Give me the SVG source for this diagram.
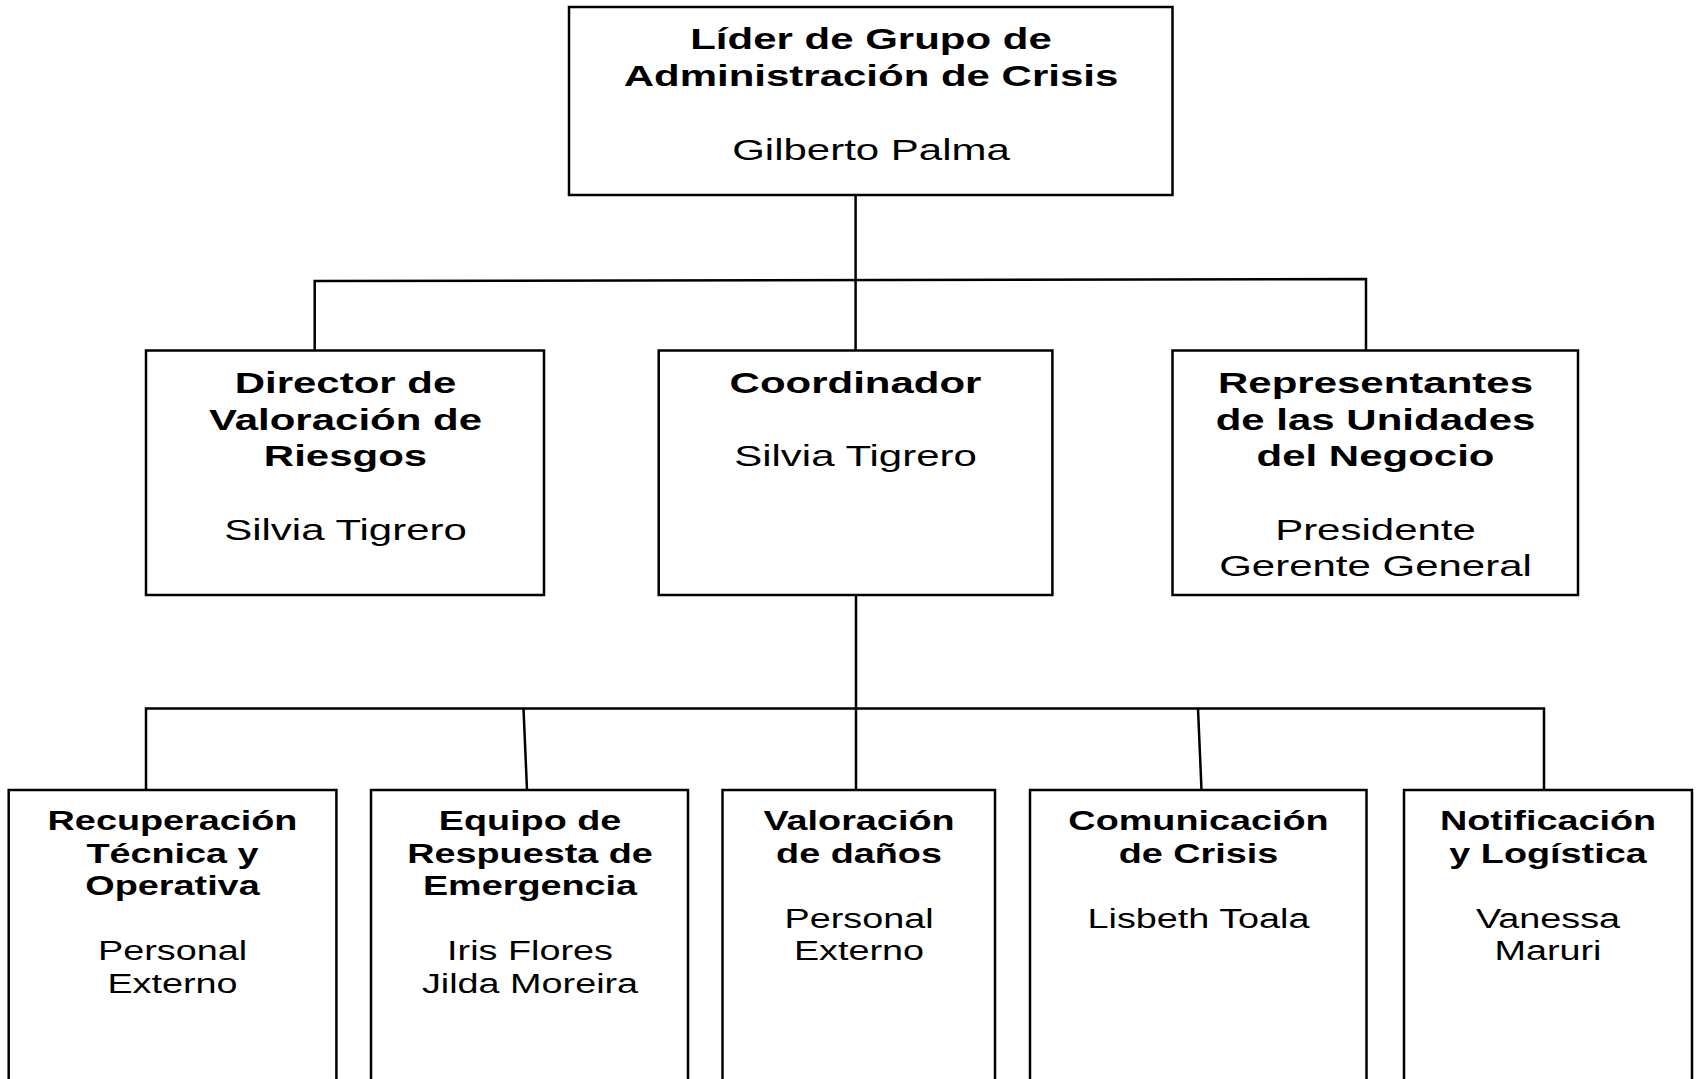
<svg xmlns="http://www.w3.org/2000/svg" width="1696" height="1079" viewBox="0 0 1696 1079">
<style>
.box{fill:#fff;stroke:#000;stroke-width:2.5}
.ln{fill:none;stroke:#000;stroke-width:2.5}
text{font-family:"Liberation Sans",Arial,sans-serif;text-anchor:middle;fill:#000}
.t1{font-size:30px;font-weight:bold}
.n1{font-size:30px}
.t3{font-size:27px;font-weight:bold}
.n3{font-size:27px}
</style>
<rect width="1696" height="1079" fill="#fff"/>
<g id="connectors">
<path class="ln" d="M855.6,195 V350"/>
<path class="ln" d="M314.7,350 V281 L1366,279 V350"/>
<path class="ln" d="M856,595 V790"/>
<path class="ln" d="M146,790 V708.5 H1544 V790"/>
<path class="ln" d="M523.5,708.5 L527,790"/>
<path class="ln" d="M1198,708.5 L1201.5,790"/>
</g>
<g id="lider">
<rect class="box" x="569" y="7" width="603.5" height="188"/>
<text class="t1" transform="translate(871,49) scale(1.4,1)">Líder de Grupo de</text>
<text class="t1" transform="translate(871,86) scale(1.4,1)">Administración de Crisis</text>
<text class="n1" transform="translate(871,160) scale(1.4,1)">Gilberto Palma</text>
</g>
<g id="director">
<rect class="box" x="146" y="350.5" width="398" height="244.5"/>
<text class="t1" transform="translate(345.5,393) scale(1.4,1)">Director de</text>
<text class="t1" transform="translate(345.5,429.5) scale(1.4,1)">Valoración de</text>
<text class="t1" transform="translate(345.5,466) scale(1.4,1)">Riesgos</text>
<text class="n1" transform="translate(345.5,540) scale(1.4,1)">Silvia Tigrero</text>
</g>
<g id="coordinador">
<rect class="box" x="658.7" y="350.5" width="393.7" height="244.5"/>
<text class="t1" transform="translate(855.5,393) scale(1.4,1)">Coordinador</text>
<text class="n1" transform="translate(855.5,466) scale(1.4,1)">Silvia Tigrero</text>
</g>
<g id="representantes">
<rect class="box" x="1172.5" y="350.5" width="405.5" height="244.5"/>
<text class="t1" transform="translate(1375.5,393) scale(1.4,1)">Representantes</text>
<text class="t1" transform="translate(1375.5,429.5) scale(1.4,1)">de las Unidades</text>
<text class="t1" transform="translate(1375.5,466) scale(1.4,1)">del Negocio</text>
<text class="n1" transform="translate(1375.5,539.5) scale(1.4,1)">Presidente</text>
<text class="n1" transform="translate(1375.5,575.5) scale(1.4,1)">Gerente General</text>
</g>
<g id="recuperacion">
<rect class="box" x="8.7" y="790" width="327.7" height="310"/>
<text class="t3" transform="translate(172.5,830) scale(1.4,1)">Recuperación</text>
<text class="t3" transform="translate(172.5,862.5) scale(1.4,1)">Técnica y</text>
<text class="t3" transform="translate(172.5,895) scale(1.4,1)">Operativa</text>
<text class="n3" transform="translate(172.5,960) scale(1.4,1)">Personal</text>
<text class="n3" transform="translate(172.5,992.5) scale(1.4,1)">Externo</text>
</g>
<g id="equipo">
<rect class="box" x="371" y="790" width="317" height="310"/>
<text class="t3" transform="translate(530,830) scale(1.4,1)">Equipo de</text>
<text class="t3" transform="translate(530,862.5) scale(1.4,1)">Respuesta de</text>
<text class="t3" transform="translate(530,895) scale(1.4,1)">Emergencia</text>
<text class="n3" transform="translate(530,960) scale(1.4,1)">Iris Flores</text>
<text class="n3" transform="translate(530,992.5) scale(1.4,1)">Jilda Moreira</text>
</g>
<g id="valoracion">
<rect class="box" x="722.5" y="790" width="272.5" height="310"/>
<text class="t3" transform="translate(859,830) scale(1.4,1)">Valoración</text>
<text class="t3" transform="translate(859,862.5) scale(1.4,1)">de daños</text>
<text class="n3" transform="translate(859,927.5) scale(1.4,1)">Personal</text>
<text class="n3" transform="translate(859,960) scale(1.4,1)">Externo</text>
</g>
<g id="comunicacion">
<rect class="box" x="1030" y="790" width="336.5" height="310"/>
<text class="t3" transform="translate(1198.5,830) scale(1.4,1)">Comunicación</text>
<text class="t3" transform="translate(1198.5,862.5) scale(1.4,1)">de Crisis</text>
<text class="n3" transform="translate(1198.5,927.5) scale(1.4,1)">Lisbeth Toala</text>
</g>
<g id="notificacion">
<rect class="box" x="1404" y="790" width="288" height="310"/>
<text class="t3" transform="translate(1548,830) scale(1.4,1)">Notificación</text>
<text class="t3" transform="translate(1548,862.5) scale(1.4,1)">y Logística</text>
<text class="n3" transform="translate(1548,927.5) scale(1.4,1)">Vanessa</text>
<text class="n3" transform="translate(1548,960) scale(1.4,1)">Maruri</text>
</g>
</svg>
